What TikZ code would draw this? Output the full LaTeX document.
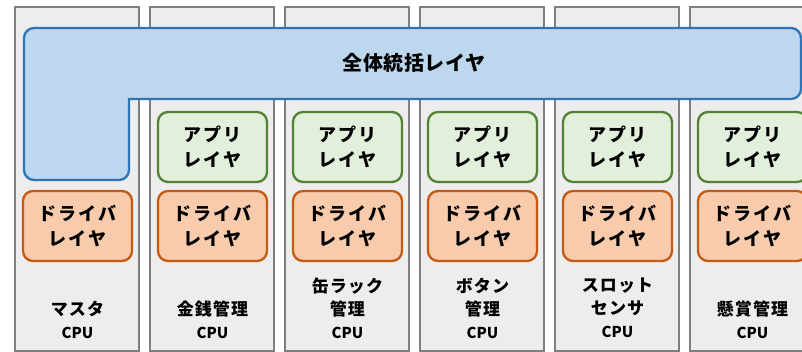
\documentclass[tikz,border=0pt]{standalone}
\usepackage{fontspec}
\setmainfont{Noto Sans CJK JP}
\definecolor{colfill}{HTML}{EDEDED}
\definecolor{coldraw}{HTML}{7F7F7F}
\definecolor{topfill}{HTML}{BDD7EE}
\definecolor{topdraw}{HTML}{2E75B6}
\definecolor{appfill}{HTML}{E2EFDA}
\definecolor{appdraw}{HTML}{548235}
\definecolor{drvfill}{HTML}{F8CBAD}
\definecolor{drvdraw}{HTML}{C55A11}
\newcommand{\cpufont}{\fontsize{15}{16}\selectfont\addfontfeatures{LetterSpace=0}}
\tikzset{
  column/.style={draw=coldraw, fill=colfill, line width=2.3pt, minimum width=124pt, minimum height=344pt, inner sep=0pt},
  layerbox/.style={line width=2.3pt, rounded corners=10pt, minimum width=109pt, minimum height=70pt, inner sep=0pt, align=center,
    font=\fontsize{18}{25}\selectfont\bfseries\addfontfeatures{LetterSpace=10}},
  appbox/.style={layerbox, draw=appdraw, fill=appfill},
  drvbox/.style={layerbox, draw=drvdraw, fill=drvfill},
  toppath/.style={draw=topdraw, fill=topfill, line width=2.3pt},
  toplabel/.style={font=\fontsize{20}{23}\selectfont\bfseries\addfontfeatures{LetterSpace=3}},
  cpulabel/.style={align=center, font=\fontsize{17}{23}\selectfont\bfseries\addfontfeatures{LetterSpace=6}, inner sep=0pt},
}
\begin{document}
\begin{tikzpicture}[x=1pt,y=-1pt]
\useasboundingbox (0,0) rectangle (802,352);
\clip (0,0) rectangle (802,352);
% columns
\foreach \i/\L in {1/15,2/150,3/285,4/420,5/555,6/690}{
  \node[column] (col\i) at (\L+62,179) {};
}
% top layer
\draw[toppath] (129,140) [rounded corners=10pt] -- (129,180) -- (24,180) -- (24,28) -- (801,28) -- (801,99) -- (700,99) [sharp corners] -- (129,99) -- cycle;
\node[toplabel] (top) at (414,63) {全体統括レイヤ};
% application layers
\foreach \i/\L in {2/150,3/285,4/420,5/555,6/690}{
  \node[appbox] (app\i) at (\L+62.5,147) {アプリ\\レイヤ};
}
% driver layers
\foreach \i/\L in {1/15,2/150,3/285,4/420,5/555,6/690}{
  \node[drvbox] (drv\i) at (\L+62.5,226) {ドライバ\\レイヤ};
}
% CPU labels
\node[cpulabel] (lab1) at (77.5,320) {マスタ\\{\cpufont CPU}};
\node[cpulabel] (lab2) at (212.5,320) {金銭管理\\{\cpufont CPU}};
\node[cpulabel] (lab3) at (347.5,308) {缶ラック\\管理\\{\cpufont CPU}};
\node[cpulabel] (lab4) at (482.5,308) {ボタン\\管理\\{\cpufont CPU}};
\node[cpulabel] (lab5) at (617.5,308) {スロット\\センサ\\{\cpufont CPU}};
\node[cpulabel] (lab6) at (752.5,320) {懸賞管理\\{\cpufont CPU}};
\end{tikzpicture}
\end{document}
